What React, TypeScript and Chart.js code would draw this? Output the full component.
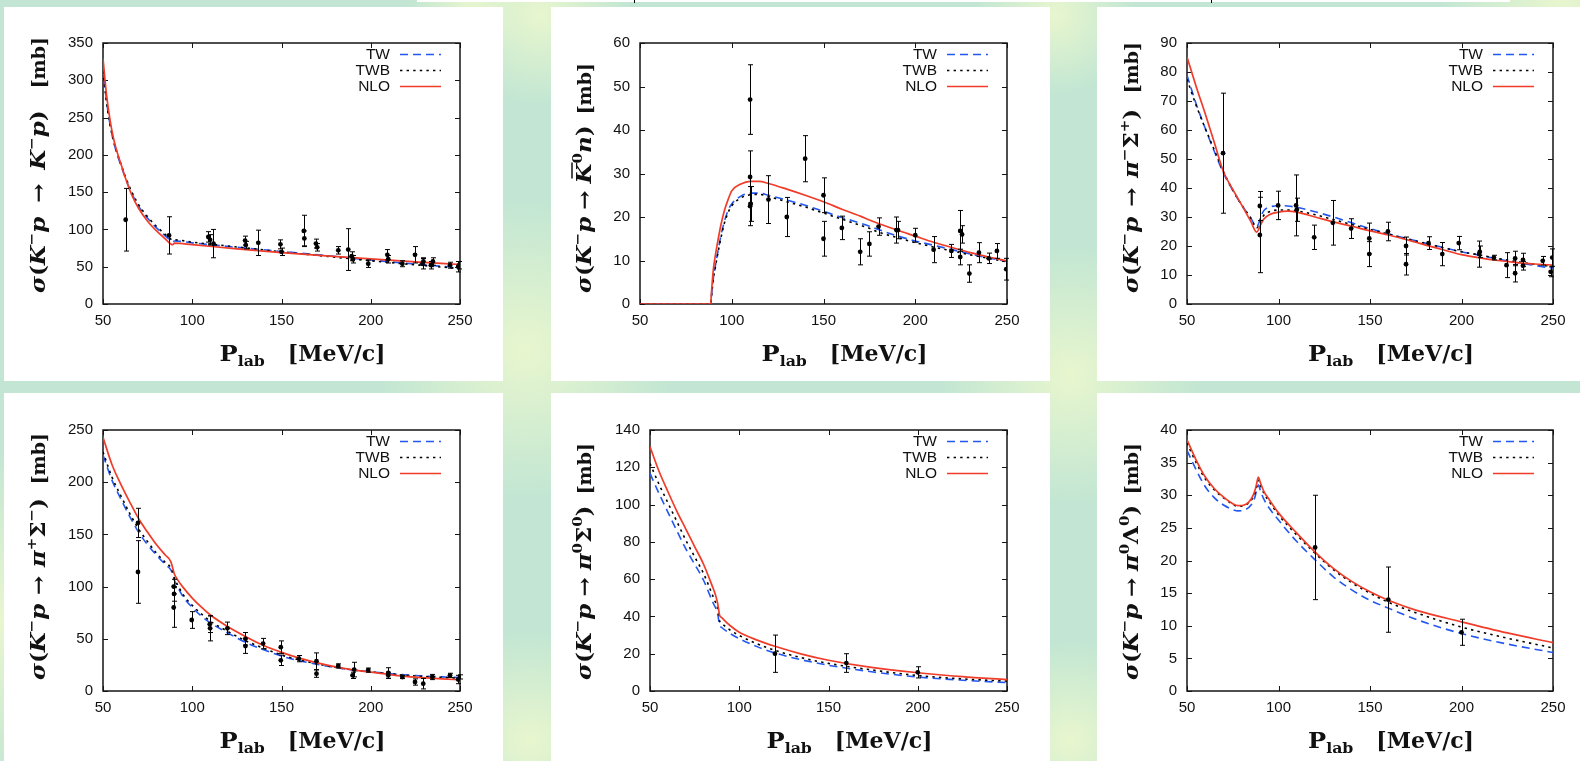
import React, { useEffect, useRef } from "react";
import { Chart, registerables } from "chart.js";

Chart.register(...registerables);

// ---------------- DATA ----------------
const legendLabels = ["TW", "TWB", "NLO"];

// Panel 1: K- p -> K- p
const p1X = [50, 52, 54, 56, 58, 60, 63, 66, 70, 75, 80, 85, 88, 89, 90, 100, 125, 150, 175, 200, 225, 250];
const p1NLO = [329, 280, 246, 221, 203, 188, 166, 147, 128, 111, 98, 87, 80.5, 79.5, 81.5, 79.5, 74, 69, 64.5, 60.5, 56.5, 53];
const p1TW = [318, 272, 240, 217, 200, 186, 166, 149, 131, 115, 102, 91, 85, 83.5, 84.5, 82, 76, 70.5, 65, 59, 53.5, 48.5];
const p1TWB = [312, 270, 240, 218, 202, 188, 168, 151, 133, 117, 104, 93, 87, 85.5, 86, 83, 76.5, 70, 64, 58, 52.5, 47.5];
const p1PtX = [62.7, 87, 109, 110, 111.9, 129.6, 130, 137, 149.4, 150, 162.5, 162.8, 169.3, 170, 181.8, 187.4, 189.3, 190, 198.6, 209.3, 209.8, 217.7, 224.8, 229, 229.5, 233.7, 234.8, 244.4, 249, 249.5];
const p1PtY = [113, 92, 90, 86, 81, 85, 79, 82, 80, 70, 98, 88, 81, 76, 72, 73, 64, 60, 54, 66, 60, 54, 66, 54, 57, 52, 57, 52, 50, 52];
const p1PtE = [42, 25, 7, 7, 19, 6, 5, 17, 6, 5, 21, 10, 6, 5, 5, 28, 6, 5, 5, 7, 5, 4, 11, 7, 5, 5, 5, 4, 7, 5];

// Panel 2: K- p -> K0bar n
const p2X = [50, 88.5, 89, 90, 91, 92, 94, 96, 98, 100, 105, 110, 115, 120, 130, 140, 150, 160, 170, 175, 180, 190, 200, 210, 220, 230, 240, 250];
const p2NLO = [0, 0, 3, 8, 11, 13.5, 18, 21.5, 24, 26, 27.6, 28.2, 28.2, 27.7, 26.4, 25, 23.5, 21.8, 20.2, 19.3, 18.5, 17, 15.6, 14.2, 13, 11.8, 10.8, 9.9];
const p2TW = [0, 0, 2, 6, 8.6, 11, 15.5, 19, 21.5, 23, 24.8, 25.5, 25.5, 25, 23.9, 22.7, 21.3, 19.9, 18.6, 17.9, 17.1, 15.7, 14.5, 13.5, 12.5, 11.5, 10.6, 9.8];
const p2TWB = [0, 0, 2, 5.8, 8.3, 10.7, 15, 18.6, 21, 22.6, 24.4, 25.1, 25.2, 24.7, 23.5, 22.3, 20.9, 19.5, 18.1, 17.4, 16.5, 15.3, 14.1, 13.1, 12.2, 11.3, 10.5, 9.7];
const p2PtX = [110, 110, 110, 110.3, 120, 130, 140, 150, 150, 160, 170, 175, 180, 189.7, 190.6, 200, 210, 219.7, 224.5, 225.5, 224.5, 229.5, 234.7, 240, 244.5, 249.6];
const p2PtY = [47, 29.2, 22.5, 23, 24, 20, 33.4, 25, 15, 17.5, 12, 13.8, 17.8, 17, 17, 15.8, 12.5, 12.2, 16.8, 16, 10.8, 7, 11.8, 10.5, 12.2, 8];
const p2PtE = [8, 6, 4.5, 4, 5.5, 4.5, 5.3, 4, 4, 2.7, 3, 2.8, 2, 3, 2, 1.6, 3, 1.5, 4.7, 2, 1.8, 2, 2.3, 1.2, 1.7, 2.5];

// Panel 3: K- p -> pi- Sigma+
const p3X = [50, 55, 60, 65, 70, 75, 80, 85, 88, 89, 90, 92, 95, 100, 105, 110, 120, 130, 140, 150, 160, 170, 180, 190, 200, 210, 220, 230, 240, 250];
const p3NLO = [85.2, 75, 65.5, 55.5, 45.5, 39.5, 34, 28.3, 24.8, 25.5, 27, 29.3, 30.8, 31.7, 32, 31.7, 30, 28.3, 26.8, 25.2, 23.8, 22.2, 20.4, 18.7, 17, 15.9, 15, 14.3, 13.8, 13.4];
const p3TW = [78.9, 69, 60.5, 52.5, 45, 39.2, 34, 29.5, 26.6, 27.5, 29.5, 32.2, 33.4, 33.9, 33.8, 33.3, 31.8, 30, 28, 26, 24.2, 22.6, 21, 19.5, 18, 16.8, 15.5, 14.3, 13.3, 12.3];
const p3TWB = [77.5, 68.5, 60.5, 53, 45.5, 39.3, 34, 29.5, 26.2, 26.8, 28.2, 30.6, 31.8, 32.4, 32.4, 32.1, 30.8, 29.1, 27.4, 25.7, 24.1, 22.5, 20.9, 19.4, 18, 16.9, 15.7, 14.6, 13.7, 12.9];
const p3PtX = [69.7, 89.8, 89.8, 99.8, 109.6, 110, 119.5, 129.7, 139.7, 149.6, 149.6, 159.8, 169.7, 169.7, 182, 189.5, 198.5, 209.6, 210, 217.7, 224.6, 229.3, 229.3, 233.6, 233.6, 244.4, 248.7, 249.6];
const p3PtY = [52, 33.8, 23.8, 34, 34, 32.5, 23, 28, 26, 22.6, 17.2, 25, 20, 13.7, 21, 17.2, 21, 17.2, 18, 16, 13.4, 15.7, 10.6, 15.2, 13.2, 14.9, 11.1, 16];
const p3PtE = [20.7, 5, 13, 4.9, 10.5, 4, 4.2, 7.7, 3.4, 5.3, 4.3, 3.2, 3.1, 3.7, 2.2, 4, 2.3, 4.5, 2, 0.8, 4.3, 2.5, 3, 2.3, 1.5, 1.5, 1.7, 3];

// Panel 4: K- p -> pi+ Sigma-
const p4X = [50, 55, 60, 65, 70, 75, 80, 85, 88, 89, 90, 92, 95, 100, 105, 110, 120, 130, 140, 150, 160, 175, 190, 200, 215, 225, 240, 250];
const p4NLO = [243, 217, 198, 181, 165, 152, 140, 130, 124, 118, 112, 106, 99, 89, 80.5, 73, 61.5, 52, 43.5, 37, 31.5, 25, 20.3, 18, 14.8, 13.3, 11.6, 10.7];
const p4TW = [226, 202, 184, 167, 152, 140, 130, 121, 116, 112, 106, 99, 90, 80, 72, 65.5, 55.5, 46.5, 39.5, 33.5, 29, 24, 20, 18.5, 16, 14.8, 13.5, 12.8];
const p4TWB = [229, 205, 187, 170, 155, 143, 132, 123, 118, 114, 108, 101, 92, 82, 74, 67, 57, 48, 41, 34.5, 29.8, 24.3, 20.2, 18.5, 15.8, 14.4, 13, 12.2];
const p4PtX = [69.6, 69.6, 89.6, 89.6, 89.8, 99.7, 109.8, 110, 119.7, 129.8, 129.8, 139.7, 149.6, 149.6, 159.7, 169.6, 169.6, 181.8, 189.8, 190.7, 198.6, 209.8, 209.8, 217.7, 224.8, 229.4, 234.5, 244.4, 249, 250];
const p4PtY = [161, 114, 100, 80, 93, 68, 64, 60, 60, 50, 43, 45.4, 42, 29.4, 31, 28.5, 16.6, 24, 15, 20.5, 20, 17.3, 15, 13.4, 8.6, 7, 13.4, 15, 11, 13.5];
const p4PtE = [14, 30, 7, 19, 7, 8, 8, 12, 6, 6, 7, 5, 6, 5, 3, 8, 3.5, 2, 3, 7, 2, 5, 3, 1.5, 3, 5, 2.5, 2, 4, 2];

// Panel 5: K- p -> pi0 Sigma0
const p5X = [50, 55, 60, 65, 70, 75, 80, 85, 86, 87, 88, 89, 90, 95, 100, 110, 120, 135, 150, 175, 200, 225, 250];
const p5NLO = [131, 118, 107, 96.5, 87, 77.5, 68, 56, 53.5, 50.5, 46.5, 40.6, 39.5, 35, 31.5, 27.3, 24, 19.8, 16.5, 12.5, 9.8, 7.7, 6.1];
const p5TW = [116.7, 106, 96, 86, 76.4, 68, 59.4, 48, 46, 44, 41, 35.3, 34.2, 30.8, 28.1, 23.8, 20.4, 16.7, 13.8, 10.2, 7.5, 5.8, 4.5];
const p5TWB = [122, 111, 101, 91, 81, 72, 63, 51.5, 49, 47, 44, 37.5, 36.4, 32.6, 29.8, 25.3, 21.8, 17.8, 14.8, 11.2, 8.3, 6.5, 5.3];
const p5PtX = [120, 160, 200];
const p5PtY = [20, 15, 10];
const p5PtE = [10, 5, 3];

// Panel 6: K- p -> pi0 Lambda0
const p6X = [50, 55, 60, 65, 70, 75, 78, 82, 85, 87, 88, 89, 90, 92, 95, 100, 110, 120, 130, 140, 150, 160, 175, 200, 225, 250];
const p6NLO = [38.5, 35.4, 32.8, 31, 29.7, 28.7, 28.4, 28.6, 29.4, 30.6, 31.7, 32.8, 32, 30.6, 29.3, 27.3, 24.2, 21.3, 18.8, 16.8, 15.2, 13.9, 12.4, 10.6, 8.9, 7.4];
const p6TW = [36.9, 33.9, 31.3, 29.6, 28.5, 27.8, 27.6, 27.8, 28.5, 29.6, 30.7, 31.6, 30.8, 29.4, 28, 26.2, 22.9, 20.1, 17.5, 15.5, 13.9, 12.7, 11, 8.8, 7.2, 5.9];
const p6TWB = [38, 35, 32.5, 30.8, 29.6, 28.6, 28.3, 28.5, 29.2, 30.2, 31.2, 32.3, 31.6, 30.3, 29, 27, 23.9, 21.1, 18.6, 16.6, 15, 13.6, 12, 9.8, 8.1, 6.6];
const p6PtX = [120, 160, 200];
const p6PtY = [22, 14, 9];
const p6PtE = [8, 5, 2];

// ---------------- STYLE ----------------
const BLUE = "#2358f0";
const RED = "#f03c28";
const FRAME = "#151515";
const TICK_FONT = { family: "'Liberation Sans', Arial, sans-serif", size: 15 };
const TEXT_COLOR = "#111111";

type Seg = { t?: string; s?: string; sp?: number; bar?: boolean };

const STYLES: any = {
  i: { font: "bold italic 20px 'DejaVu Serif'", dy: 0, sx: 1.15 },
  r: { font: "bold 20px 'DejaVu Serif'", dy: 0, sx: 1.15 },
  u: { font: "bold 13px 'DejaVu Serif'", dy: -9, sx: 1.15 },
  m: { font: "bold 19px 'DejaVu Serif'", dy: 0, sx: 1.0 },
  P: { font: "bold 23px 'DejaVu Serif'", dy: 0, sx: 1.05 },
  l: { font: "bold 15px 'DejaVu Serif'", dy: 5, sx: 1.05 },
  M: { font: "bold 22px 'DejaVu Serif'", dy: 0, sx: 1.0 },
};

const head: Seg[] = [{ t: "σ", s: "i" }, { t: "(", s: "r" }, { t: "K", s: "i" }, { t: "−", s: "u" }, { t: "p", s: "i" }, { sp: 1 }, { t: "→", s: "r" }, { sp: 1 }];
const tail: Seg[] = [{ t: ")", s: "r" }, { sp: 1.6 }, { t: "[mb]", s: "m" }];
const t1: Seg[] = [...head, { t: "K", s: "i" }, { t: "−", s: "u" }, { t: "p", s: "i" }, ...tail];
const t2: Seg[] = [...head, { t: "K", s: "i", bar: true }, { t: "0", s: "u" }, { t: "n", s: "i" }, ...tail];
const t3: Seg[] = [...head, { t: "π", s: "i" }, { t: "−", s: "u" }, { t: "Σ", s: "r" }, { t: "+", s: "u" }, ...tail];
const t4: Seg[] = [...head, { t: "π", s: "i" }, { t: "+", s: "u" }, { t: "Σ", s: "r" }, { t: "−", s: "u" }, ...tail];
const t5: Seg[] = [...head, { t: "π", s: "i" }, { t: "0", s: "u" }, { t: "Σ", s: "r" }, { t: "0", s: "u" }, ...tail];
const t6: Seg[] = [...head, { t: "π", s: "i" }, { t: "0", s: "u" }, { t: "Λ", s: "r" }, { t: "0", s: "u" }, ...tail];
const xTitle: Seg[] = [{ t: "P", s: "P" }, { t: "lab", s: "l" }, { sp: 1 }, { t: "[MeV/c]", s: "M" }];

const PANELS = [
  { box: [4, 7, 503, 381], plot: [103, 43, 460, 304], yMax: 350, yStep: 50, xs: p1X, tw: p1TW, twb: p1TWB, nlo: p1NLO, px: p1PtX, py: p1PtY, pe: p1PtE, title: t1, tLen: 256, tOff: 58 },
  { box: [551, 7, 1050, 381], plot: [640, 43, 1007, 304], yMax: 60, yStep: 10, xs: p2X, tw: p2TW, twb: p2TWB, nlo: p2NLO, px: p2PtX, py: p2PtY, pe: p2PtE, title: t2, tLen: 230, tOff: 49 },
  { box: [1097, 7, 1580, 381], plot: [1187, 43, 1553, 304], yMax: 90, yStep: 10, xs: p3X, tw: p3TW, twb: p3TWB, nlo: p3NLO, px: p3PtX, py: p3PtY, pe: p3PtE, title: t3, tLen: 251, tOff: 49 },
  { box: [4, 393, 503, 761], plot: [103, 430, 460, 691], yMax: 250, yStep: 50, xs: p4X, tw: p4TW, twb: p4TWB, nlo: p4NLO, px: p4PtX, py: p4PtY, pe: p4PtE, title: t4, tLen: 247, tOff: 58 },
  { box: [551, 393, 1050, 761], plot: [650, 430, 1007, 691], yMax: 140, yStep: 20, xs: p5X, tw: p5TW, twb: p5TWB, nlo: p5NLO, px: p5PtX, py: p5PtY, pe: p5PtE, title: t5, tLen: 237, tOff: 59 },
  { box: [1097, 393, 1580, 761], plot: [1187, 430, 1553, 691], yMax: 40, yStep: 5, xs: p6X, tw: p6TW, twb: p6TWB, nlo: p6NLO, px: p6PtX, py: p6PtY, pe: p6PtE, title: t6, tLen: 237, tOff: 49 },
];

const Y_AXIS_W = 60;
const X_AXIS_H = 40;
const TICK = 5;

function drawRich(ctx: CanvasRenderingContext2D, segs: Seg[], target: number) {
  let natural = 0;
  let wsum = 0;
  const widths: number[] = [];
  for (const s of segs) {
    if (s.sp) { wsum += s.sp; widths.push(0); continue; }
    const st = STYLES[s.s!];
    ctx.font = st.font;
    const w = ctx.measureText(s.t!).width * st.sx;
    widths.push(w);
    natural += w;
  }
  const unit = wsum > 0 ? Math.max(0, target - natural) / wsum : 0;
  let x = 0;
  segs.forEach((s, i) => {
    if (s.sp) { x += s.sp * unit; return; }
    const st = STYLES[s.s!];
    ctx.save();
    ctx.font = st.font;
    ctx.translate(x, st.dy);
    ctx.scale(st.sx, 1);
    ctx.fillText(s.t!, 0, 0);
    ctx.restore();
    if (s.bar) {
      ctx.save();
      ctx.lineWidth = 1.5;
      ctx.beginPath();
      ctx.moveTo(x + 5, -19);
      ctx.lineTo(x + widths[i] + 1, -19);
      ctx.stroke();
      ctx.restore();
    }
    x += widths[i];
  });
}

function makePlugin(p: any) {
  return {
    id: "frameAndText",
    beforeDatasetsDraw(chart: any) {
      const { ctx, chartArea: a, scales } = chart;
      ctx.save();
      ctx.strokeStyle = FRAME;
      ctx.lineWidth = 1;
      ctx.beginPath();
      for (const t of scales.x.ticks) {
        const x = Math.round(scales.x.getPixelForValue(t.value)) + 0.5;
        ctx.moveTo(x, a.bottom); ctx.lineTo(x, a.bottom - TICK);
        ctx.moveTo(x, a.top); ctx.lineTo(x, a.top + TICK);
      }
      for (const t of scales.y.ticks) {
        const y = Math.round(scales.y.getPixelForValue(t.value)) + 0.5;
        ctx.moveTo(a.left, y); ctx.lineTo(a.left + TICK, y);
        ctx.moveTo(a.right, y); ctx.lineTo(a.right - TICK, y);
      }
      ctx.stroke();
      ctx.lineWidth = 1.5;
      ctx.strokeRect(a.left, a.top, a.right - a.left, a.bottom - a.top);
      ctx.restore();
    },
    afterDatasetsDraw(chart: any) {
      const { ctx, scales } = chart;
      ctx.save();
      ctx.strokeStyle = "#000";
      ctx.lineWidth = 1;
      ctx.beginPath();
      p.px.forEach((xv: number, i: number) => {
        const x = Math.round(scales.x.getPixelForValue(xv)) + 0.5;
        const y1 = scales.y.getPixelForValue(p.py[i] - p.pe[i]);
        const y2 = scales.y.getPixelForValue(p.py[i] + p.pe[i]);
        ctx.moveTo(x, y1); ctx.lineTo(x, y2);
        ctx.moveTo(x - 2.5, y1); ctx.lineTo(x + 2.5, y1);
        ctx.moveTo(x - 2.5, y2); ctx.lineTo(x + 2.5, y2);
      });
      ctx.stroke();
      ctx.restore();
    },
    afterDraw(chart: any) {
      const { ctx, chartArea: a } = chart;
      ctx.save();
      // legend
      ctx.font = "15.5px 'Liberation Sans', Arial, sans-serif";
      ctx.fillStyle = TEXT_COLOR;
      ctx.textAlign = "right";
      ctx.textBaseline = "middle";
      const ds = chart.data.datasets;
      [0, 1, 2].forEach((k) => {
        const y = a.top + 11 + 16 * k;
        ctx.fillText(legendLabels[k], a.right - 70, y + 1);
        const d = ds[k];
        ctx.save();
        ctx.strokeStyle = d.borderColor;
        ctx.lineWidth = d.borderWidth;
        ctx.setLineDash(d.borderDash || []);
        ctx.beginPath();
        ctx.moveTo(a.right - 60, y + 0.5);
        ctx.lineTo(a.right - 19, y + 0.5);
        ctx.stroke();
        ctx.restore();
      });
      // y title
      ctx.textAlign = "left";
      ctx.textBaseline = "alphabetic";
      ctx.fillStyle = "#111";
      ctx.strokeStyle = "#111";
      ctx.save();
      ctx.translate(a.left - p.tOff, a.bottom - 11);
      ctx.rotate(-Math.PI / 2);
      drawRich(ctx, p.title, p.tLen);
      ctx.restore();
      // x title
      ctx.save();
      ctx.translate((a.left + a.right) / 2 - 62, a.bottom + 57);
      drawRich(ctx, xTitle, 166);
      ctx.restore();
      ctx.restore();
    },
  };
}

function Panel({ p }: { p: any }) {
  const ref = useRef<HTMLCanvasElement>(null);
  const [bl, bt, br, bb] = p.box;
  const [pl, pt, pr, pb] = p.plot;
  const W = br - bl;
  const H = bb - bt;
  useEffect(() => {
    const canvas = ref.current!;
    const mk = (ys: number[]) => p.xs.map((x: number, i: number) => ({ x, y: ys[i] }));
    const chart = new Chart(canvas, {
      type: "line",
      data: {
        datasets: [
          { label: "TW", data: mk(p.tw), borderColor: BLUE, borderWidth: 1.6, borderDash: [8, 5], pointRadius: 0, cubicInterpolationMode: "monotone", fill: false, order: 3 },
          { label: "TWB", data: mk(p.twb), borderColor: "#000", borderWidth: 1.6, borderDash: [2.4, 4.2], pointRadius: 0, cubicInterpolationMode: "monotone", fill: false, order: 2 },
          { label: "NLO", data: mk(p.nlo), borderColor: RED, borderWidth: 1.7, pointRadius: 0, cubicInterpolationMode: "monotone", fill: false, order: 1 },
          { type: "scatter", label: "data", data: p.px.map((x: number, i: number) => ({ x, y: p.py[i] })), pointRadius: 2.4, pointBackgroundColor: "#000", pointBorderColor: "#000", pointBorderWidth: 0, order: 0 } as any,
        ],
      },
      options: {
        animation: false,
        responsive: false,
        maintainAspectRatio: false,
        events: [],
        layout: {
          autoPadding: false,
          padding: { left: pl - bl - Y_AXIS_W, top: pt - bt, right: br - pr, bottom: bb - pb - X_AXIS_H },
        },
        plugins: { legend: { display: false }, tooltip: { enabled: false }, title: { display: false } },
        scales: {
          x: {
            type: "linear",
            min: 50,
            max: 250,
            grid: { display: false, drawTicks: false },
            border: { display: false },
            ticks: { stepSize: 50, autoSkip: false, maxRotation: 0, minRotation: 0, padding: 8, font: TICK_FONT, color: TEXT_COLOR },
            afterFit: (s: any) => { s.height = X_AXIS_H; },
          },
          y: {
            type: "linear",
            min: 0,
            max: p.yMax,
            grid: { display: false, drawTicks: false },
            border: { display: false },
            ticks: { stepSize: p.yStep, autoSkip: false, padding: 10, font: TICK_FONT, color: TEXT_COLOR },
            afterFit: (s: any) => { s.width = Y_AXIS_W; },
          },
        },
      } as any,
      plugins: [makePlugin(p)],
    });
    return () => chart.destroy();
  }, []);
  return (
    <div style={{ position: "absolute", left: bl, top: bt, width: W, height: H, background: "#ffffff" }}>
      <canvas ref={ref} width={W} height={H} style={{ display: "block", width: W, height: H }} />
    </div>
  );
}

const Y = "rgba(232,246,206,1)";
const Y0 = "rgba(232,246,206,0)";
const spot = (x: number, y: number, r: number) => `radial-gradient(circle ${r}px at ${x}px ${y}px, ${Y} 0%, ${Y0} 100%)`;
const BG = [
  spot(525, 350, 150),
  spot(540, 15, 90),
  spot(530, 740, 110),
  spot(1070, 375, 130),
  spot(1055, 15, 80),
  spot(1070, 740, 100),
  spot(0, 620, 170),
  spot(1560, 0, 120),
  spot(470, 0, 60),
].join(", ") + ", #c2e6d3";

export default function App() {
  return (
    <div style={{ position: "fixed", left: 0, top: 0, width: 1580, height: 761, overflow: "hidden", background: BG }}>
      <div style={{ position: "absolute", left: 417, top: 0, width: 1093, height: 2, background: "#ffffff" }} />
      <div style={{ position: "absolute", left: 634, top: 0, width: 1, height: 3, background: "#000" }} />
      <div style={{ position: "absolute", left: 1211, top: 0, width: 1, height: 3, background: "#000" }} />
      {PANELS.map((p, i) => (
        <Panel key={i} p={p} />
      ))}
    </div>
  );
}
